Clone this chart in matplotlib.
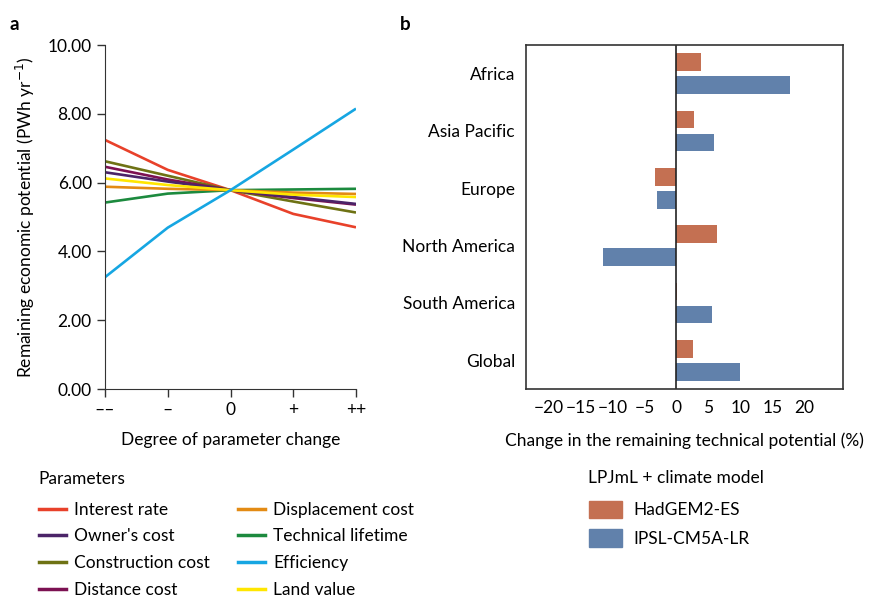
import matplotlib
matplotlib.use("Agg")
import matplotlib.pyplot as plt
from matplotlib.patches import Patch
from matplotlib.lines import Line2D
import numpy as np

plt.rcParams['font.family'] = ['Lato', 'DejaVu Sans']
plt.rcParams['font.size'] = 12.5
plt.rcParams['axes.unicode_minus'] = True

# panel a: parameter sensitivity
steps = ['––', '–', '0', '+', '++']
params = ['Interest rate', "Owner's cost", 'Construction cost', 'Distance cost',
          'Displacement cost', 'Technical lifetime', 'Efficiency', 'Land value']
interest = [7.24, 6.37, 5.78, 5.09, 4.70]
owners = [6.30, 6.03, 5.78, 5.58, 5.38]
construction = [6.62, 6.20, 5.78, 5.45, 5.13]
distance = [6.46, 6.09, 5.78, 5.55, 5.36]
displacement = [5.88, 5.82, 5.78, 5.71, 5.67]
lifetime = [5.42, 5.68, 5.78, 5.80, 5.82]
efficiency = [3.25, 4.69, 5.78, 6.96, 8.15]
landvalue = [6.12, 5.93, 5.78, 5.65, 5.58]
series = [interest, owners, construction, distance, displacement, lifetime, efficiency, landvalue]
colors = ['#E8412A', '#4B2468', '#6E7214', '#7C1152', '#E38B14', '#1C8A3E', '#16A6E2', '#FFE600']
draw_order = [5, 4, 0, 2, 3, 1, 7, 6]

# panel b: regional change
regions = ['Africa', 'Asia Pacific', 'Europe', 'North America', 'South America', 'Global']
hadgem = [3.9, 2.8, -3.4, 6.3, 0.1, 2.5]
ipsl = [17.7, 5.9, -3.0, -11.5, 5.5, 9.9]
c_had = '#C47052'
c_ipsl = '#6181AB'

fig = plt.figure(figsize=(8.7, 5.99), dpi=100)
W, H = 870, 599

def box(l, r, t, b):
    return [l / W, 1 - b / H, (r - l) / W, (b - t) / H]

ax = fig.add_axes(box(105, 356, 45, 389))
x = np.arange(len(steps))
for i in draw_order:
    ax.plot(x, series[i], color=colors[i], lw=1.9, label=params[i], solid_capstyle='butt')
ax.set_xlim(0, 4)
ax.set_ylim(0, 10)
ax.set_yticks(np.arange(0, 10.1, 2))
ax.set_yticklabels([f'{v:.2f}' for v in np.arange(0, 10.1, 2)])
ax.set_xticks(x)
ax.set_xticklabels(steps)
ax.spines['top'].set_visible(False)
ax.spines['right'].set_visible(False)
ax.tick_params(direction='out', length=6, width=1, color='#333333')
ax.set_xlabel('Degree of parameter change', labelpad=10)
ax.set_ylabel('Remaining economic potential (PWh yr$^{-1}$)', labelpad=8)
for s in ax.spines.values():
    s.set_color('#333333')

bx = fig.add_axes(box(526, 843, 45, 389))
y = np.arange(len(regions))
bx.barh(y - 0.2, hadgem, height=0.31, color=c_had)
bx.barh(y + 0.2, ipsl, height=0.31, color=c_ipsl)
bx.axvline(0, color='#222222', lw=1.2)
bx.set_ylim(5.5, -0.5)
bx.set_xlim(-23.5, 26)
bx.set_yticks(y)
bx.set_yticklabels(regions)
bx.set_xticks(np.arange(-20, 21, 5))
bx.tick_params(length=0, pad=8)
bx.set_xlabel('Change in the remaining technical potential (%)', labelpad=12)
for s in bx.spines.values():
    s.set_color('#333333')
    s.set_linewidth(1.2)

fig.text(10 / W, 1 - 25 / H, 'a', fontweight='bold', fontsize=13.5, va='center')
fig.text(400 / W, 1 - 25 / H, 'b', fontweight='bold', fontsize=13.5, va='center')

# legend titles placed as plain text
fig.text(38 / W, 1 - 479 / H, 'Parameters', va='center')
fig.text(588 / W, 1 - 478 / H, 'LPJmL + climate model', va='center')

handles = [Line2D([0], [0], color=colors[i], lw=2.5) for i in range(len(params))]
fig.legend(handles, params, ncol=2, loc='upper left',
           bbox_to_anchor=(23 / W, 1 - 486 / H), frameon=False,
           handlelength=1.55, columnspacing=1.6, labelspacing=0.62, handletextpad=0.5)

bh = [Patch(color=c_had), Patch(color=c_ipsl)]
fig.legend(bh, ['HadGEM2-ES', 'IPSL-CM5A-LR'], loc='upper left',
           bbox_to_anchor=(573 / W, 1 - 485 / H), frameon=False,
           handlelength=1.9, handleheight=1.2, labelspacing=0.6, handletextpad=0.7)

fig.savefig('out.png', dpi=100)
